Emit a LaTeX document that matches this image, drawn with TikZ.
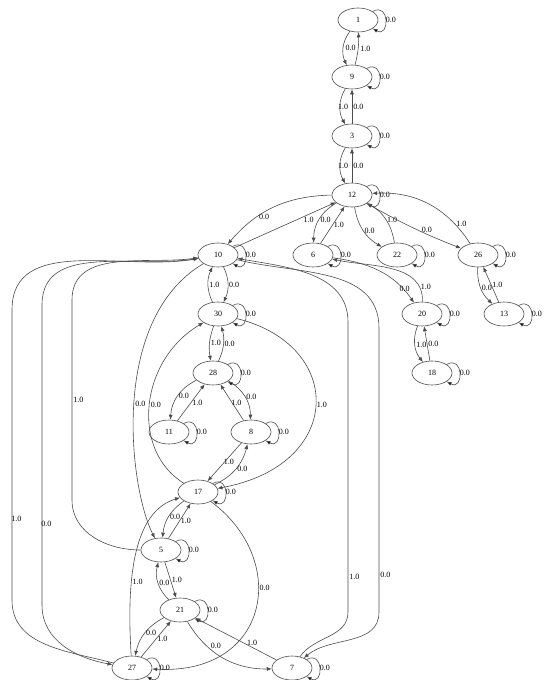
\documentclass[tikz,border=0pt]{standalone}
\usepackage{fontspec}
\setmainfont{Liberation Serif}
\usetikzlibrary{shapes.geometric,arrows.meta}

\tikzset{
  st/.style={ellipse, draw=black!70, line width=0.6pt, minimum width=40pt,
    minimum height=24pt, inner sep=0pt, font=\fontsize{8}{9}\selectfont},
  tr/.style={-{Latex[length=5pt,width=4pt]}, draw=black!70, line width=0.6pt},
  lbl/.style={font=\fontsize{8}{9}\selectfont, inner sep=1pt},
  selfloop/.style={loop, out=30, in=-30, looseness=3, min distance=8pt}
}

\begin{document}
\begin{tikzpicture}[x=1pt,y=1pt]
  \useasboundingbox (0,0) rectangle (553,-680);

  % states
  \node[st] (n1) at (358,-20) {1};
  \node[st] (n9) at (352,-77) {9};
  \node[st] (n3) at (352,-136) {3};
  \node[st] (n12) at (352,-195) {12};
  \node[st] (n10) at (218,-255) {10};
  \node[st] (n6) at (313,-255) {6};
  \node[st] (n22) at (397,-255) {22};
  \node[st] (n26) at (478,-255) {26};
  \node[st] (n30) at (218,-314) {30};
  \node[st] (n20) at (422,-314) {20};
  \node[st] (n13) at (504,-314) {13};
  \node[st] (n28) at (213,-373) {28};
  \node[st] (n18) at (432,-373) {18};
  \node[st] (n11) at (169,-432) {11};
  \node[st] (n8) at (251,-432) {8};
  \node[st] (n17) at (198,-492) {17};
  \node[st] (n5) at (161,-550) {5};
  \node[st] (n21) at (180,-610) {21};
  \node[st] (n27) at (132,-668) {27};
  \node[st] (n7) at (292,-668) {7};

  % self loops
  \foreach \n in {1,9,3,12,10,6,22,26,30,20,13,28,18,11,8,17,5,21,27,7}
    \path[tr] (n\n) edge[selfloop] node[lbl, right, xshift=-1pt] {0.0} (n\n);

  % chain at the top
  \draw[tr] (n1) to[bend right=30] node[lbl, right, xshift=1pt] {0.0} (n9);
  \draw[tr] (n9) to[bend right=8] node[lbl, right, xshift=1pt] {1.0} (n1);
  \draw[tr] (n9) to[bend right=30] node[lbl, xshift=3pt] {1.0} (n3);
  \draw[tr] (n3) -- node[lbl, right] {0.0} (n9);
  \draw[tr] (n3) to[bend right=30] node[lbl, xshift=3pt] {1.0} (n12);
  \draw[tr] (n12) -- node[lbl, right] {0.0} (n3);

  % fan out of 12
  \draw[tr] (n12) to[bend right=24] node[lbl, below, pos=.6] {0.0} (n10);
  \draw[tr] (n10) -- node[lbl, below right, pos=.68, inner sep=0pt] {1.0} (n12);
  \draw[tr] (n12) to[bend right=30] node[lbl, right] {0.0} (n6);
  \draw[tr] (n6) -- node[lbl, right] {1.0} (n12);
  \draw[tr] (n12) to[bend right=25] node[lbl, right] {0.0} (n22);
  \draw[tr] (n22) to[bend right=25] node[lbl, right] {1.0} (n12);
  \draw[tr] (n12) to[bend right=4] node[lbl, above, pos=.66] {0.0} (n26);
  \draw[tr] (n26) to[bend right=30] node[lbl, right, pos=.2] {1.0} (n12);

  \draw[tr] (n6) to[out=-8, in=125] node[lbl, right, pos=.82, xshift=-4pt] {0.0} (n20);
  \draw[tr] (n20) to[out=88, in=-12] node[lbl, right, pos=.15] {1.0} (n6);
  \draw[tr] (n26) to[bend right=25] node[lbl, right] {0.0} (n13);
  \draw[tr] (n13) -- node[lbl, right] {1.0} (n26);
  \draw[tr] (n20) to[bend right=30] node[lbl, right] {1.0} (n18);
  \draw[tr] (n18) -- node[lbl, right] {0.0} (n20);

  % middle column
  \draw[tr] (n30) to[bend left=25] node[lbl, right] {1.0} (n10);
  \draw[tr] (n10) to[bend left=25] node[lbl, right] {0.0} (n30);
  \draw[tr] (n30) to[bend right=15] node[lbl, right] {1.0} (n28);
  \draw[tr] (n28) to[bend right=20] node[lbl, right] {0.0} (n30);
  \draw[tr] (n28) to[bend right=30] node[lbl, right] {0.0} (n11);
  \draw[tr] (n11) -- node[lbl, right] {1.0} (n28);
  \draw[tr] (n28) to[bend left=30] node[lbl, right] {0.0} (n8);
  \draw[tr] (n8) -- node[lbl, right, xshift=-2pt] {1.0} (n28);
  \draw[tr] (n8) -- node[lbl, right, xshift=-2pt] {1.0} (n17);
  \draw[tr] (n17) to[bend right=25] node[lbl, right] {0.0} (n8);

  \draw[tr] (n30) .. controls (345,-345) and (345,-465) .. node[lbl, right] {1.0} (n17);
  \draw[tr] (n17) .. controls (130,-450) and (140,-360) .. node[lbl, right] {0.0} (n30);
  \draw[tr] (n10) .. controls (108,-320) and (130,-490) .. node[lbl, right] {0.0} (n5);
  \draw[tr] (n5) to[out=180, in=-90] (72,-500) -- node[lbl, right] {1.0} (72,-300)
    to[out=90, in=188] (n10);

  % long ones round the left and the right
  \draw[tr] (n27) to[out=165, in=-90] (12,-600) -- node[lbl, right, pos=.28, xshift=-2pt] {1.0} (12,-310)
    to[out=90, in=190] (n10);
  \draw[tr] (n10) to[out=190, in=90] (42,-305) -- node[lbl, right, pos=.73, xshift=-2pt] {0.0} (42,-605)
    to[out=-90, in=170] (n27);
  \draw[tr] (n7) to[out=55, in=-90] (348,-612) -- node[lbl, right, pos=.12] {1.0} (348,-322)
    to[out=90, in=-10] (n10);
  \draw[tr] (n10) to[out=-14, in=90] (379,-328) -- node[lbl, right, pos=.87] {0.0} (379,-612)
    to[out=-90, in=40] (n7);

  % lower part
  \draw[tr] (n17) to[bend right=25] node[lbl, right] {0.0} (n5);
  \draw[tr] (n5) -- node[lbl, right] {1.0} (n17);
  \draw[tr] (n21) to[bend left=30] node[lbl, right] {0.0} (n5);
  \draw[tr] (n5) -- node[lbl, right] {1.0} (n21);
  \draw[tr] (n21) to[bend right=25] node[lbl, right] {0.0} (n27);
  \draw[tr] (n27) -- node[lbl, right] {1.0} (n21);
  \draw[tr] (n21) to[bend right=30] node[lbl, above right, pos=.35, inner sep=0pt] {0.0} (n7);
  \draw[tr] (n7) -- node[lbl, above, pos=.3] {1.0} (n21);
  \draw[tr] (n27) .. controls (125,-560) and (140,-510) .. node[lbl, right, pos=.3] {1.0} (n17);
  \draw[tr] (n17) .. controls (290,-560) and (270,-675) .. node[lbl, right, pos=.4] {0.0} (n27);
\end{tikzpicture}
\end{document}
